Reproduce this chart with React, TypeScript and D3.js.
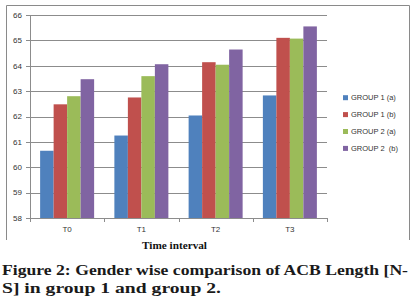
import React from "react";
import * as d3 from "d3";

const categories = ["T0", "T1", "T2", "T3"];
const seriesNames = ["GROUP 1 (a)", "GROUP 1 (b)", "GROUP 2 (a)", "GROUP 2  (b)"];
const group1a = [60.65, 61.25, 62.04, 62.83];
const group1b = [62.48, 62.75, 64.14, 65.1];
const group2a = [62.8, 63.59, 64.04, 65.07];
const group2b = [63.47, 64.06, 64.64, 65.55];
const yTicks = [58, 59, 60, 61, 62, 63, 64, 65, 66];
const colors = ["#4F81BD", "#C0504D", "#9BBB59", "#8064A2"];

const seriesValues = [group1a, group1b, group2a, group2b];

export default function App() {
  const W = 415;
  const H = 305;
  const left = 30;
  const right = 327;
  const top = 15;
  const bottom = 218;

  const x = d3.scaleBand<string>().domain(categories).range([left, right]).paddingInner(0).paddingOuter(0);
  const xInner = d3
    .scaleBand<string>()
    .domain(seriesNames)
    .range([0, x.bandwidth()])
    .paddingInner(0)
    .paddingOuter(0.75);
  const y = d3.scaleLinear().domain([58, 66]).range([bottom, top]);

  const sans = "'Liberation Sans', Arial, sans-serif";
  const serif = "'Liberation Serif', 'Times New Roman', serif";
  const catBoundaries = [...categories.map((c) => x(c) as number), right];

  return (
    <svg
      width={W}
      height={H}
      style={{ position: "absolute", left: 0, top: 0, display: "block" }}
    >
      <rect x={0} y={0} width={W} height={H} fill="#fff" />
      {/* outer frame (no bottom edge) */}
      <path d="M6.5,240 V5.5 H409.5 V240" fill="none" stroke="#8a8a8a" strokeWidth={1} />

      {/* gridlines */}
      {yTicks.map((t) => (
        <g key={t}>
          {t !== 58 && (
            <line x1={left} x2={right} y1={Math.round(y(t)) + 0.5} y2={Math.round(y(t)) + 0.5} stroke="#8c8c8c" strokeWidth={1} />
          )}
          <line x1={left - 4} x2={left} y1={Math.round(y(t)) + 0.5} y2={Math.round(y(t)) + 0.5} stroke="#8c8c8c" strokeWidth={1} />
          <text
            x={22}
            y={y(t)}
            dy="0.35em"
            textAnchor="end"
            fontFamily={sans}
            fontSize={8}
            fill="#333"
          >
            {t}
          </text>
        </g>
      ))}

      {/* bars */}
      {categories.map((c, ci) => (
        <g key={c} transform={`translate(${x(c)},0)`}>
          {seriesNames.map((s, si) => {
            const v = seriesValues[si][ci];
            return (
              <rect
                key={s}
                x={xInner(s)}
                y={y(v)}
                width={xInner.bandwidth()}
                height={bottom - y(v)}
                fill={colors[si]}
              />
            );
          })}
        </g>
      ))}

      {/* axes */}
      <line x1={left + 0.5} x2={left + 0.5} y1={top} y2={bottom} stroke="#8c8c8c" strokeWidth={1} />
      <line x1={left} x2={right} y1={Math.round(bottom) + 0.5} y2={Math.round(bottom) + 0.5} stroke="#8c8c8c" strokeWidth={1} />
      {catBoundaries.map((b, i) => (
        <line key={i} x1={Math.round(b) + 0.5} x2={Math.round(b) + 0.5} y1={bottom} y2={bottom + 4} stroke="#8c8c8c" strokeWidth={1} />
      ))}
      {categories.map((c) => (
        <text
          key={c}
          x={(x(c) as number) + x.bandwidth() / 2}
          y={229}
          dy="0.35em"
          textAnchor="middle"
          fontFamily={sans}
          fontSize={8}
          fill="#333"
        >
          {c}
        </text>
      ))}

      {/* axis title */}
      <text
        x={142}
        y={249}
        fontFamily={serif}
        fontWeight="bold"
        fontSize={10}
        fill="#111"
        textLength={65}
        lengthAdjust="spacingAndGlyphs"
      >
        Time interval
      </text>

      {/* legend */}
      {seriesNames.map((s, i) => {
        const cy = 97.7 + i * 16.9;
        return (
          <g key={s}>
            <rect x={343} y={cy - 2.5} width={5} height={5} fill={colors[i]} />
            <text
              x={351}
              y={cy}
              dy="0.35em"
              fontFamily={sans}
              fontSize={7.5}
              fill="#333"
              style={{ whiteSpace: "pre" }}
            >
              {s}
            </text>
          </g>
        );
      })}

      {/* caption */}
      <text
        x={2}
        y={275}
        fontFamily={serif}
        fontWeight="bold"
        fontSize={15}
        fill="#1a1a1a"
        textLength={406}
        lengthAdjust="spacingAndGlyphs"
      >
        Figure 2: Gender wise comparison of ACB Length [N-
      </text>
      <text
        x={2}
        y={293}
        fontFamily={serif}
        fontWeight="bold"
        fontSize={15}
        fill="#1a1a1a"
        textLength={219}
        lengthAdjust="spacingAndGlyphs"
      >
        S] in group 1 and group 2.
      </text>
    </svg>
  );
}
